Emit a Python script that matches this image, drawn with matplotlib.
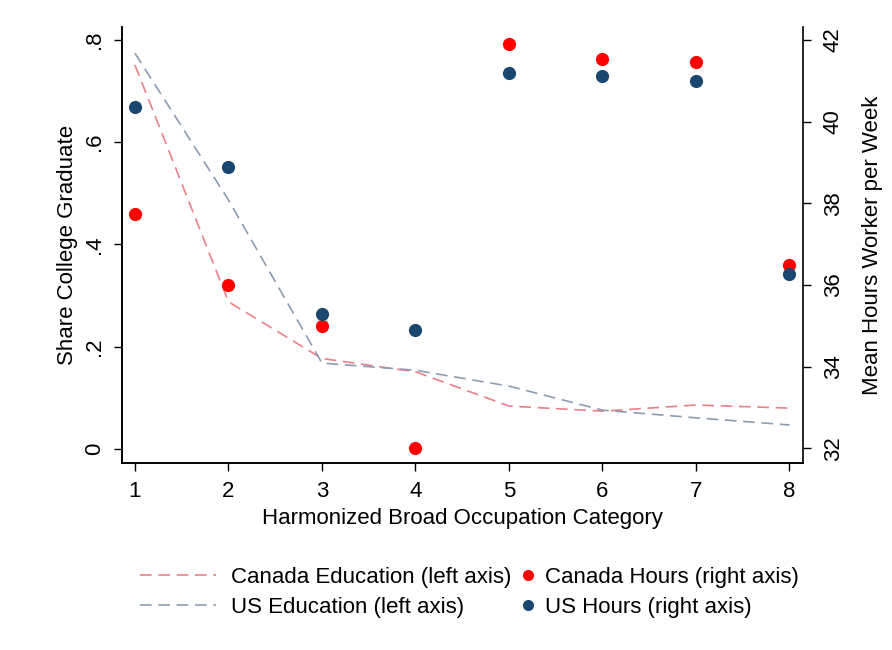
import matplotlib.pyplot as plt
from matplotlib.lines import Line2D

plt.rcParams['font.family'] = ['Liberation Sans', 'DejaVu Sans']

# occupation categories
categories = [1, 2, 3, 4, 5, 6, 7, 8]

# share college graduate (left axis)
canada_educ = [0.751, 0.288, 0.177, 0.151, 0.084, 0.074, 0.086, 0.080]
us_educ = [0.774, 0.487, 0.168, 0.154, 0.123, 0.076, 0.061, 0.047]

# mean hours per worker per week (right axis)
canada_hours = [37.74, 36.0, 35.0, 32.0, 41.91, 41.53, 41.46, 36.48]
us_hours = [40.37, 38.89, 35.29, 34.89, 41.2, 41.11, 41.01, 36.28]

left_ticks = [0, 0.2, 0.4, 0.6, 0.8]
left_ticklabels = ["0", ".2", ".4", ".6", ".8"]
right_ticks = [32, 34, 36, 38, 40, 42]

col_can_line = "#ec7f89"
col_us_line = "#8c9db2"
col_can_dot = "#ff0000"
col_us_dot = "#1a476f"

fs = 16

fig = plt.figure(figsize=(8.92, 6.5), dpi=100)
ax = fig.add_axes([0.1364, 0.2872, 0.7642, 0.6718])
ax2 = ax.twinx()

ax.plot(categories, canada_educ, color=col_can_line, linewidth=1.2, dashes=(7, 4))
ax.plot(categories, us_educ, color=col_us_line, linewidth=1.2, dashes=(7, 4))

ax2.plot(categories, canada_hours, "o", color=col_can_dot, markersize=9.5, markeredgewidth=0)
ax2.plot(categories, us_hours, "o", color=col_us_dot, markersize=9.5, markeredgewidth=0)

ax.set_xlim(0.858, 8.148)
ax.set_ylim(-0.028, 0.826)
ax2.set_ylim(31.633, 42.33)

ax.set_xticks(categories)
ax.set_yticks(left_ticks)
ax.set_yticklabels(left_ticklabels, rotation=90, va="center")
ax2.set_yticks(right_ticks)
ax2.set_yticklabels([str(t) for t in right_ticks], rotation=90, va="center")

for a in (ax, ax2):
    a.spines["top"].set_visible(False)
    a.tick_params(labelsize=fs, length=6, width=1, pad=6)
    for s in a.spines.values():
        s.set_linewidth(1.2)
ax.spines["right"].set_visible(False)
ax.tick_params(axis="x", pad=7)
ax.tick_params(axis="y", pad=6)
ax2.tick_params(axis="y", pad=8)

ax.set_xlabel("Harmonized Broad Occupation Category", fontsize=fs, labelpad=4)
ax.set_ylabel("Share College Graduate", fontsize=fs, labelpad=4)
ax2.set_ylabel("Mean Hours Worker per Week", fontsize=fs, labelpad=13)

line_handles = [
    Line2D([], [], color=col_can_line, linewidth=1.2, dashes=(7, 4)),
    Line2D([], [], color=col_us_line, linewidth=1.2, dashes=(7, 4)),
]
dot_handles = [
    Line2D([], [], marker="o", linestyle="none", color=col_can_dot, markersize=8, markeredgewidth=0),
    Line2D([], [], marker="o", linestyle="none", color=col_us_dot, markersize=8, markeredgewidth=0),
]

fig.legend(line_handles, ["Canada Education (left axis)", "US Education (left axis)"],
           loc="upper left", bbox_to_anchor=(0.157, 0.128), frameon=False,
           fontsize=fs, handlelength=3.4, handletextpad=0.68, labelspacing=0.4,
           borderpad=0, borderaxespad=0)
fig.legend(dot_handles, ["Canada Hours (right axis)", "US Hours (right axis)"],
           loc="upper left", bbox_to_anchor=(0.583, 0.128), frameon=False,
           fontsize=fs, handlelength=0.72, handletextpad=0.4, labelspacing=0.4,
           borderpad=0, borderaxespad=0)

fig.savefig("out.png", dpi=100)
